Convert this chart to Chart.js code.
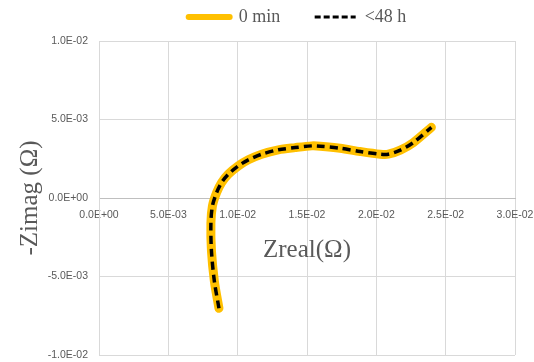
<!DOCTYPE html>
<html>
<head>
<meta charset="utf-8">
<script src="https://cdn.jsdelivr.net/npm/chart.js@4"></script>
<style>
  html, body { margin: 0; padding: 0; background: #fff; }
  #wrap { width: 534px; height: 362px; }
</style>
</head>
<body>
<div id="wrap"><canvas id="nyquist" width="534" height="362"></canvas></div>
<script>
// данные кривой (Zreal, -Zimag)
var zReal = [0.00865, 0.00832, 0.00811, 0.00807, 0.00818, 0.00848, 0.00884, 0.00932, 0.01004, 0.01077, 0.01173, 0.01293, 0.01414, 0.01535, 0.01595, 0.01739, 0.01884, 0.02028, 0.02086, 0.02173, 0.02267, 0.02397];
var zImag = [-0.00702, -0.0053, -0.00338, -0.0016, -0.00051, 0.00034, 0.00098, 0.00151, 0.00204, 0.00243, 0.00279, 0.00307, 0.00321, 0.00332, 0.0033, 0.00317, 0.00296, 0.00279, 0.00279, 0.00305, 0.00353, 0.0045];
var seriesNames = ['0 min', '<48 h'];
var xTicks = [0, 0.005, 0.01, 0.015, 0.02, 0.025, 0.03];
var yTicks = [-0.01, -0.005, 0, 0.005, 0.01];

function toPoints(xs, ys){ // склеиваем массивы в точки
    return xs.map(function(x, i){ return {x: x, y: ys[i]}; });
}

function fmtE(v){ // формат как в экселе 1.0E-02
    if (Math.abs(v) < 1e-12) return '0.0E+00';
    var s = v.toExponential(1).toUpperCase();
    return s.replace(/E([+-])(\d)$/, 'E$10$2');
}

var gray = '#595959';
var serif = "'Liberation Serif', 'DejaVu Serif', serif";
var sans = "'Liberation Sans', Arial, sans-serif";
var legendLines = [{w: 6, dash: []}, {w: 3, dash: [6, 3]}]; // как линии выглядят в легенде

const ctx = document.getElementById('nyquist').getContext('2d');
const chart = new Chart(ctx, {
    type: 'scatter',
    data: {
        datasets: [{
            label: seriesNames[0],
            data: toPoints(zReal, zImag),
            showLine: true,
            borderColor: '#FFC000',
            backgroundColor: '#FFC000',
            borderWidth: 9,
            borderCapStyle: 'round',
            pointRadius: 0,
            tension: 0.3,
            order: 2
        }, {
            label: seriesNames[1],
            data: toPoints(zReal, zImag),
            showLine: true,
            borderColor: '#000000',
            backgroundColor: '#000000',
            borderWidth: 3.5,
            borderDash: [8, 5],
            pointRadius: 0,
            tension: 0.3,
            order: 1
        }]
    },
    options: {
        responsive: false,
        animation: false,
        layout: { autoPadding: false, padding: { left: 0, right: 19, top: -8, bottom: 7 } },
        plugins: {
            tooltip: { enabled: false },
            legend: {
                position: 'top',
                labels: {
                    usePointStyle: true,
                    pointStyle: 'line',
                    pointStyleWidth: 41,
                    color: gray,
                    font: { family: serif, size: 18 },
                    padding: 21,
                    sort: function(a, b){ return a.datasetIndex - b.datasetIndex; },
                    generateLabels: function(c){
                        var items = Chart.defaults.plugins.legend.labels.generateLabels(c);
                        items.forEach(function(it){
                            var ds = c.data.datasets[it.datasetIndex];
                            it.lineWidth = legendLines[it.datasetIndex].w;
                            it.lineDash = legendLines[it.datasetIndex].dash;
                            it.strokeStyle = ds.borderColor;
                            it.fillStyle = ds.borderColor;
                            it.lineCap = it.datasetIndex === 0 ? 'round' : 'butt';
                            if (it.datasetIndex === 0) it.text += '\u00A0\u00A0\u00A0'; // зазор между пунктами
                        });
                        return items;
                    }
                }
            }
        },
        scales: {
            x: {
                type: 'linear',
                position: { y: 0 },
                min: 0, max: 0.03,
                afterBuildTicks: function(scale){ scale.ticks = xTicks.map(function(v){ return {value: v}; }); },
                afterFit: function(scale){ scale.paddingLeft = 0; scale.paddingRight = 0; },
                ticks: { color: gray, font: { family: sans, size: 10.5 }, padding: 11, maxRotation: 0, autoSkip: false, callback: fmtE },
                grid: { color: '#d9d9d9', drawTicks: false },
                border: { color: '#bfbfbf' },
                title: { display: true, text: 'Zreal(Ω)', color: gray, font: { family: serif, size: 25 }, padding: { top: 3 } }
            },
            y: {
                type: 'linear',
                min: -0.01, max: 0.01,
                afterBuildTicks: function(scale){ scale.ticks = yTicks.map(function(v){ return {value: v}; }); },
                afterFit: function(scale){ scale.width = 99; scale.paddingTop = 0; scale.paddingBottom = 0; },
                ticks: { color: gray, font: { family: sans, size: 10.5 }, padding: 11, callback: fmtE },
                grid: { color: '#d9d9d9', drawTicks: false },
                border: { color: '#d9d9d9' },
                title: { display: true, text: '-Zimag (Ω)', color: gray, font: { family: serif, size: 25 }, padding: { top: 15, bottom: 0 } }
            }
        }
    },
    plugins: [{
        id: 'legendShift', // сдвигаем легенду как в оригинале
        afterLayout: function(c){
            if (c.legend) {
                c.legend.left += 40; c.legend.right += 40;
                c.legend.top -= 5; c.legend.bottom -= 5;
            }
        }
    }]
});
</script>
</body>
</html>
